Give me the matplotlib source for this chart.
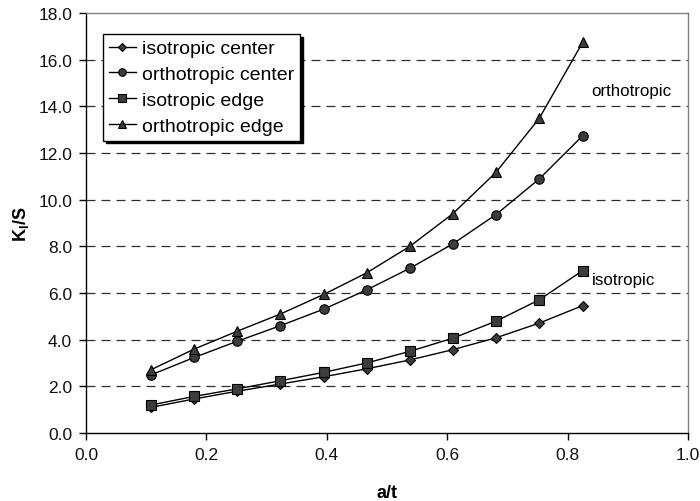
import matplotlib
matplotlib.use("Agg")
import matplotlib.pyplot as plt

plt.rcParams['font.family'] = ['Liberation Sans', 'DejaVu Sans']
plt.rcParams['mathtext.fontset'] = 'custom'
plt.rcParams['mathtext.bf'] = 'Liberation Sans:bold'
plt.rcParams['mathtext.rm'] = 'Liberation Sans'

# a/t values
a_t = [0.108, 0.180, 0.251, 0.323, 0.395, 0.466, 0.538, 0.609, 0.681, 0.753, 0.825]

# K_I/S values
iso_center = [1.10, 1.46, 1.79, 2.10, 2.41, 2.75, 3.13, 3.57, 4.08, 4.71, 5.46]
ortho_center = [2.49, 3.24, 3.93, 4.60, 5.31, 6.13, 7.06, 8.10, 9.36, 10.89, 12.74]
iso_edge = [1.20, 1.57, 1.89, 2.24, 2.60, 3.00, 3.50, 4.06, 4.79, 5.71, 6.96]
ortho_edge = [2.71, 3.60, 4.36, 5.10, 5.94, 6.86, 8.00, 9.39, 11.17, 13.49, 16.74]

x_ticks = [0.0, 0.2, 0.4, 0.6, 0.8, 1.0]
y_ticks = [0, 2, 4, 6, 8, 10, 12, 14, 16, 18]

fig = plt.figure(figsize=(7.0, 5.02), dpi=100)
ax = fig.add_axes([86 / 700, 1 - 434 / 502, 602 / 700, 420 / 502])

fill = '#3c3c3c'
common = dict(color='black', linewidth=1.0, markerfacecolor=fill,
              markeredgecolor='black', markeredgewidth=0.8, zorder=5)
ax.plot(a_t, iso_center, marker='D', markersize=5.5, label='isotropic center', **common)
ax.plot(a_t, ortho_center, marker='o', markersize=6.8, label='orthotropic center', **common)
ax.plot(a_t, iso_edge, marker='s', markersize=6.8, label='isotropic edge', **common)
ax.plot(a_t, ortho_edge, marker='^', markersize=7.5, label='orthotropic edge', **common)

ax.set_xlim(0, 1.0)
ax.set_ylim(0, 18)
ax.set_xticks(x_ticks)
ax.set_yticks(y_ticks)
ax.set_xticklabels([f"{v:.1f}" for v in x_ticks])
ax.set_yticklabels([f"{v:.1f}" for v in y_ticks])
ax.tick_params(axis='both', direction='out', length=5, width=1, labelsize=12.5, pad=5,
               color='black', labelcolor='#111111')

# dashed horizontal grid
for y in y_ticks[1:-1]:
    ax.axhline(y, color='#303030', linewidth=0.9, dashes=(7.2, 4.8), zorder=1)

for side in ['left', 'bottom']:
    ax.spines[side].set_color('black')
    ax.spines[side].set_linewidth(1.0)
for side in ['top', 'right']:
    ax.spines[side].set_color('#808080')
    ax.spines[side].set_linewidth(1.0)

ax.set_xlabel('a/t', fontsize=13, fontweight='bold', labelpad=16)
ax.set_ylabel(r'$\mathbf{K_I/S}$', fontsize=13, labelpad=5)

ax.text(0.840, 14.67, 'orthotropic', fontsize=12.2, va='center', ha='left')
ax.text(0.840, 6.60, 'isotropic', fontsize=12.2, va='center', ha='left')

leg = ax.legend(loc='upper left', bbox_to_anchor=(0.028, 0.95), borderaxespad=0,
                fontsize=14, handlelength=1.4, handletextpad=0.3, labelspacing=0.42,
                borderpad=0.3, markerscale=0.8, frameon=True, fancybox=False,
                shadow={'color': 'black', 'alpha': 1})
leg.get_frame().set_edgecolor('black')
leg.get_frame().set_linewidth(1.0)

plt.savefig('out.png', dpi=100)
plt.close()
